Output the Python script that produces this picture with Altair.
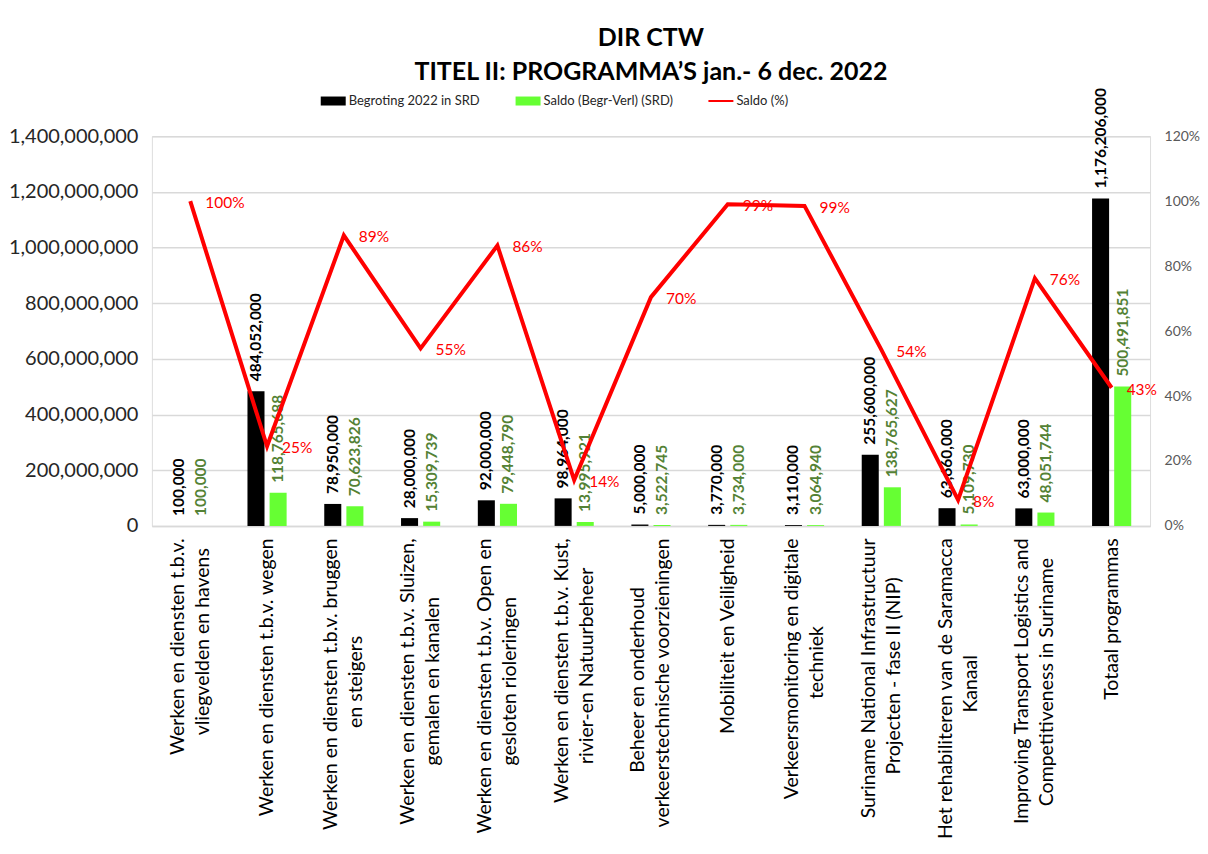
import altair as alt
import pandas as pd

categories = [
    "Werken en diensten t.b.v.|vliegvelden en havens",
    "Werken en diensten t.b.v. wegen",
    "Werken en diensten t.b.v. bruggen|en steigers",
    "Werken en diensten t.b.v. Sluizen,|gemalen en kanalen",
    "Werken en diensten t.b.v. Open en|gesloten rioleringen",
    "Werken en diensten t.b.v. Kust,|rivier-en Natuurbeheer",
    "Beheer en onderhoud|verkeerstechnische voorzieningen",
    "Mobiliteit en Veiligheid",
    "Verkeersmonitoring en digitale|techniek",
    "Suriname National Infrastructuur|Projecten - fase II (NIP)",
    "Het rehabiliteren van de Saramacca|Kanaal",
    "Improving Transport Logistics and|Competitiveness in Suriname",
    "Totaal programmas",
]
begroting = [100000, 484052000, 78950000, 28000000, 92000000, 98964000, 5000000,
             3770000, 3110000, 255600000, 63660000, 63000000, 1176206000]
saldo = [100000, 118765688, 70623826, 15309739, 79448790, 13995921, 3522745,
         3734000, 3064940, 138765627, 5109730, 48051744, 500491851]
saldo_pct = [1.000, 0.2454, 0.8945, 0.5468, 0.8636, 0.1414, 0.7045,
             0.9905, 0.9855, 0.5429, 0.0803, 0.7627, 0.4255]

series = ["Begroting 2022 in SRD", "Saldo (Begr-Verl) (SRD)", "Saldo (%)"]
colors = ["#000000", "#66FF33", "#FF0000"]
left_ticks = [0, 200000000, 400000000, 600000000, 800000000, 1000000000, 1200000000, 1400000000]
right_ticks = [0, 0.2, 0.4, 0.6, 0.8, 1.0, 1.2]

FONT = "Lato"

# approximate relative glyph widths, used only to centre the lines of two-line labels
_w = {"i": .22, "l": .22, "j": .22, "t": .33, "f": .3, "r": .35, ".": .22, ",": .22,
      " ": .19, "-": .32, "(": .3, ")": .3, "I": .27, "m": .84, "w": .74, "W": .98,
      "M": .9, "v": .5, "k": .5, "s": .42, "c": .46, "z": .45}


def _width(s):
    tot = 0.0
    for ch in s:
        if ch in _w:
            tot += _w[ch]
        elif ch.isupper():
            tot += .62
        else:
            tot += .53
    return tot


def _centre(label):
    parts = label.split("|")
    if len(parts) < 2:
        return label
    longest = max(_width(p) for p in parts)
    out = []
    for p in parts:
        n = int(round((longest - _width(p)) / 2 / 0.5))
        out.append(p + ("\u2002" * n + "\u200b" if n > 0 else ""))
    return "|".join(out)


cat_display = [_centre(c) for c in categories]

rows = []
for c, b, s in zip(cat_display, begroting, saldo):
    rows.append({"cat": c, "series": series[0], "value": b})
    rows.append({"cat": c, "series": series[1], "value": s})
bars_df = pd.DataFrame(rows)
pct_df = pd.DataFrame({"cat": cat_display, "pct": saldo_pct})
legend_df = pd.DataFrame({"key": series})

x_enc = alt.X(
    "cat:N", sort=cat_display,
    scale=alt.Scale(paddingInner=0.49, paddingOuter=0.245),
    axis=alt.Axis(
        title=None, labelAngle=270, labelAlign="right", labelBaseline="middle",
        labelExpr="split(datum.label, '|')", labelLimit=600, labelOverlap=False,
        labelFont=FONT, labelFontSize=19.5, labelColor="#000000", labelLineHeight=25,
        labelOffset={"condition": {"test": "indexof(datum.value, '|') >= 0", "value": -12.5}, "value": 0},
        labelPadding=12, ticks=False, domainColor="#d9d9d9", domainWidth=1.5,
    ),
)
xoff_enc = alt.XOffset(
    "series:N", sort=series[:2],
    scale=alt.Scale(domain=series[:2], paddingInner=0.23, paddingOuter=0),
)
y_money = alt.Y(
    "value:Q",
    scale=alt.Scale(domain=[0, 1400000000], nice=False),
    axis=alt.Axis(
        title=None, values=left_ticks, format=",d", labelFont=FONT, labelFontSize=20,
        labelColor="#262626", gridColor="#d9d9d9", gridWidth=1.5, domain=False,
        ticks=False, labelPadding=14,
    ),
)

bars = alt.Chart(bars_df).mark_bar().encode(
    x=x_enc, xOffset=xoff_enc, y=y_money,
    color=alt.Color("series:N", scale=alt.Scale(domain=series, range=colors), legend=None),
)
lbl_b = alt.Chart(bars_df).transform_filter(
    alt.datum.series == series[0]
).mark_text(
    angle=270, align="left", baseline="middle", dx=10, font=FONT,
    fontSize=15.5, fontWeight="bold", color="#000000",
).encode(
    x=alt.X("cat:N", sort=cat_display), xOffset=xoff_enc,
    y=alt.Y("value:Q", scale=alt.Scale(domain=[0, 1400000000], nice=False)),
    text=alt.Text("value:Q", format=",d"),
)
lbl_s = alt.Chart(bars_df).transform_filter(
    alt.datum.series == series[1]
).mark_text(
    angle=270, align="left", baseline="middle", dx=10, font=FONT,
    fontSize=15.5, fontWeight="bold", color="#548235",
).encode(
    x=alt.X("cat:N", sort=cat_display), xOffset=xoff_enc,
    y=alt.Y("value:Q", scale=alt.Scale(domain=[0, 1400000000], nice=False)),
    text=alt.Text("value:Q", format=",d"),
)
money = alt.layer(bars, lbl_b, lbl_s)

y_pct = alt.Y(
    "pct:Q",
    scale=alt.Scale(domain=[0, 1.2], nice=False),
    axis=alt.Axis(
        title=None, orient="right", values=right_ticks, format=".0%", labelFont=FONT,
        labelFontSize=14, labelColor="#595959", grid=False, domain=False, ticks=False,
        labelPadding=14,
    ),
)
line = alt.Chart(pct_df).mark_line(color="#FF0000", strokeWidth=4).encode(
    x=alt.X("cat:N", sort=cat_display), y=y_pct,
)
pct_lbl = alt.Chart(pct_df).mark_text(
    align="left", baseline="middle", dx=15, dy=2, font=FONT, fontSize=15.5, color="#FF0000",
).encode(
    x=alt.X("cat:N", sort=cat_display),
    y=alt.Y("pct:Q", scale=alt.Scale(domain=[0, 1.2], nice=False)),
    text=alt.Text("pct:Q", format=".0%"),
)
pct = alt.layer(line, pct_lbl)

rect_path = "M-1,-0.36L1,-0.36L1,0.36L-1,0.36Z"
line_path = "M-1,-0.08L1,-0.08L1,0.08L-1,0.08Z"
leg_cfg = dict(
    title=None, orient="none", direction="horizontal", legendX=169, legendY=-48,
    labelFont=FONT, labelFontSize=13, labelColor="#262626", symbolSize=625,
    symbolStrokeWidth=0, labelOffset=3, columnPadding=35,
)
legend_layer = alt.Chart(legend_df).transform_filter("false").mark_point(
    filled=True, opacity=1
).encode(
    color=alt.Color("key:N", scale=alt.Scale(domain=series, range=colors),
                    legend=alt.Legend(**leg_cfg)),
    shape=alt.Shape("key:N", scale=alt.Scale(domain=series, range=[rect_path, rect_path, line_path]),
                    legend=alt.Legend(**leg_cfg)),
)

chart = alt.layer(money, pct, legend_layer).resolve_scale(
    y="independent", color="independent", shape="independent"
).properties(
    width=999, height=390,
    padding={"top": 17, "left": 0, "right": 0, "bottom": 0},
    title=alt.Title(
        ["DIR CTW", "TITEL II: PROGRAMMA’S jan.- 6 dec. 2022"],
        font=FONT, fontSize=25, fontWeight="bold", color="#000000",
        anchor="middle", frame="group", lineHeight=34, offset=3,
    ),
).configure_view(stroke=None).configure(background="white")

chart.save("out.html", embed_options={"renderer": "svg", "actions": False})
